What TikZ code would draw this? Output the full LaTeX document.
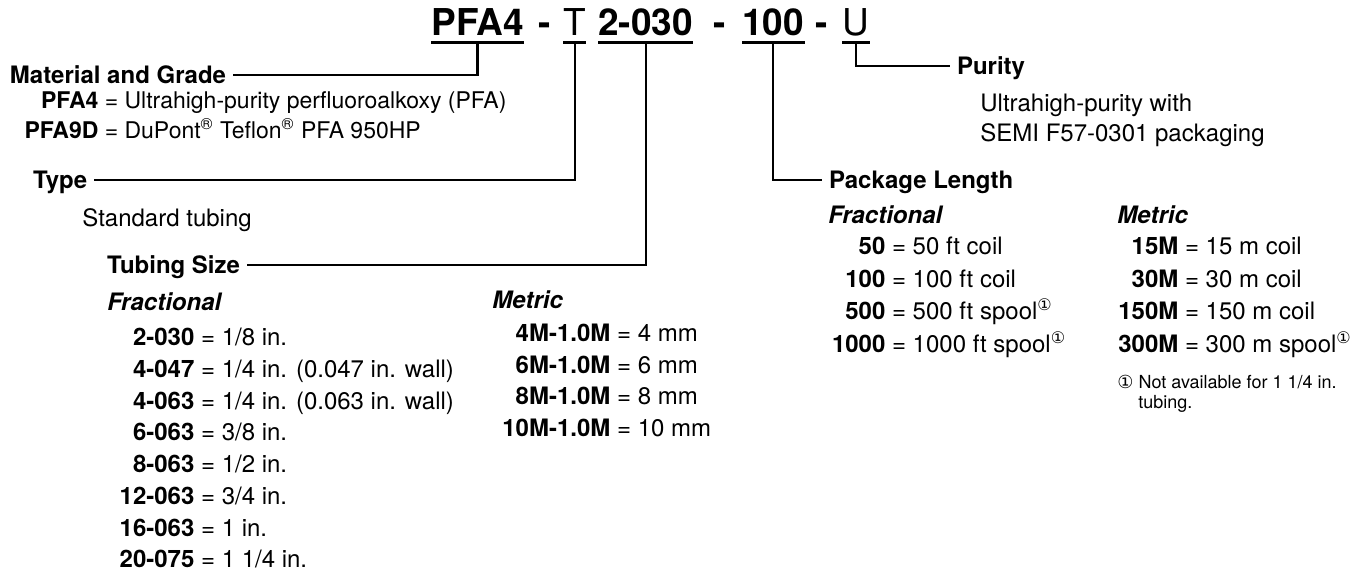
\documentclass[tikz,border=0pt]{standalone}
\usepackage{fontspec}
\setmainfont{TeX Gyre Heros}
\newfontfamily\dejavu{DejaVu Sans}
\newcommand{\kv}[3]{\makebox[#1][r]{\bfseries #2} = #3}
\newcommand{\fn}{\textsuperscript{\dejavu ①}}

\begin{document}
\begin{tikzpicture}[x=0.5pt, y=-0.5pt,
	every node/.style={inner sep=0pt, font=\fontsize{12}{14}\selectfont},
	titlebf/.style={anchor=base west, font=\bfseries\fontsize{18.5}{22}\selectfont},
	titlerm/.style={anchor=base west, font=\fontsize{18.5}{22}\selectfont},
	head/.style={anchor=west, outer xsep=3.5pt, text height=8.6pt, text depth=0pt, font=\bfseries\fontsize{12}{14}\selectfont},
	sub/.style={anchor=base west, font=\bfseries\itshape\fontsize{12}{14}\selectfont},
	item/.style={anchor=base west},
	note/.style={anchor=base west, font=\fontsize{9}{11}\selectfont},
	uline/.style={line width=1.5pt},
	link/.style={line width=1.2pt}]
			%%%%% START %%%%%
			
			\useasboundingbox (0,0) rectangle (1371,573);
			
			% part number
			\node[titlebf] (pfa) at (431,35) {PFA4};
			\node[titlebf] (dash1) at (538,35) {-};
			\node[titlerm] (typ) at (563,35) {T};
			\node[titlebf] (size) at (598,35) {2-030};
			\node[titlebf] (dash2) at (713,35) {-};
			\node[titlebf] (len) at (742,35) {100};
			\node[titlebf] (dash3) at (815,35) {-};
			\node[titlerm] (pur) at (842,35) {U};
			
			\draw[uline] ([yshift=-3.5pt]pfa.base west) -- ([yshift=-3.5pt]pfa.base east);
			\draw[uline] ([yshift=-3.5pt]typ.base west) -- ([yshift=-3.5pt]typ.base east);
			\draw[uline] ([yshift=-3.5pt]size.base west) -- ([yshift=-3.5pt]size.base east);
			\draw[uline] ([yshift=-3.5pt]len.base west) -- ([yshift=-3.5pt]len.base east);
			\draw[uline] ([yshift=-3.5pt]pur.base west) -- ([yshift=-3.5pt]pur.base east);
			
			% headings
			\node[head] (matl) at (3,75) {Material and Grade};
			\node[head] (type) at (26,180) {Type};
			\node[head] (tsize) at (100,265) {Tubing Size};
			\node[head] (purity) at (950,66) {Purity};
			\node[head] (pklen) at (822,180) {Package Length};
			
			\draw[link] (matl.east) -| ([yshift=-3.5pt]pfa.base);
			\draw[link] (type.east) -| ([yshift=-3.5pt]typ.base);
			\draw[link] (tsize.east) -| ([yshift=-3.5pt]size.base);
			\draw[link] ([yshift=-3.5pt]len.base) |- (pklen.west);
			\draw[link] ([yshift=-3.5pt]pur.base) |- (purity.west);
			
			% material and grade
			\node[item, font=\fontsize{11.5}{14}\selectfont] (pfa4) at (18,108) {\kv{40pt}{PFA4}{Ultrahigh-purity perfluoroalkoxy (PFA)}};
			\node[item, font=\fontsize{11.5}{14}\selectfont] (pfa9d) at (18,138) {\kv{40pt}{PFA9D}{DuPont\textsuperscript{®} Teflon\textsuperscript{®} PFA 950HP}};
			
			% type
			\node[item] (std) at (82,226) {Standard tubing};
			
			% tubing size
			\node[sub] (frac) at (107,310) {Fractional};
			\node[item] (f1) at (114,345) {\kv{40pt}{2-030}{1/8 in.}};
			\node[item] (f2) at (114,377) {\kv{40pt}{4-047}{1/4 in. (0.047 in. wall)}};
			\node[item] (f3) at (114,409) {\kv{40pt}{4-063}{1/4 in. (0.063 in. wall)}};
			\node[item] (f4) at (114,440) {\kv{40pt}{6-063}{3/8 in.}};
			\node[item] (f5) at (114,472) {\kv{40pt}{8-063}{1/2 in.}};
			\node[item] (f6) at (114,504) {\kv{40pt}{12-063}{3/4 in.}};
			\node[item] (f7) at (114,536) {\kv{40pt}{16-063}{1 in.}};
			\node[item] (f8) at (114,567) {\kv{40pt}{20-075}{1 1/4 in.}};
			
			\node[sub] (metr) at (492,308) {Metric};
			\node[item] (m1) at (498,341) {\kv{56pt}{4M-1.0M}{4 mm}};
			\node[item] (m2) at (498,373) {\kv{56pt}{6M-1.0M}{6 mm}};
			\node[item] (m3) at (498,404) {\kv{56pt}{8M-1.0M}{8 mm}};
			\node[item] (m4) at (498,436) {\kv{56pt}{10M-1.0M}{10 mm}};
			
			% purity
			\node[item] (pur1) at (980,111) {Ultrahigh-purity with};
			\node[item] (pur2) at (980,141) {SEMI F57-0301 packaging};
			
			% package length
			\node[sub] (pfrac) at (828,223) {Fractional};
			\node[item] (p1) at (829,254) {\kv{28pt}{50}{50 ft coil}};
			\node[item] (p2) at (829,287) {\kv{28pt}{100}{100 ft coil}};
			\node[item] (p3) at (829,319) {\kv{28pt}{500}{500 ft spool\fn}};
			\node[item] (p4) at (829,352) {\kv{28pt}{1000}{1000 ft spool\fn}};
			
			\node[sub] (pmetr) at (1117,223) {Metric};
			\node[item] (q1) at (1114,254) {\kv{32pt}{15M}{15 m coil}};
			\node[item] (q2) at (1114,287) {\kv{32pt}{30M}{30 m coil}};
			\node[item] (q3) at (1114,319) {\kv{32pt}{150M}{150 m coil}};
			\node[item] (q4) at (1114,352) {\kv{32pt}{300M}{300 m spool\fn}};
			
			\node[note] (note1) at (1117,388) {{\dejavu ①} Not available for 1 1/4 in.};
			\node[note] (note2) at (1138,408) {tubing.};
			
			%%%%% END %%%%%
\end{tikzpicture}
\end{document}
